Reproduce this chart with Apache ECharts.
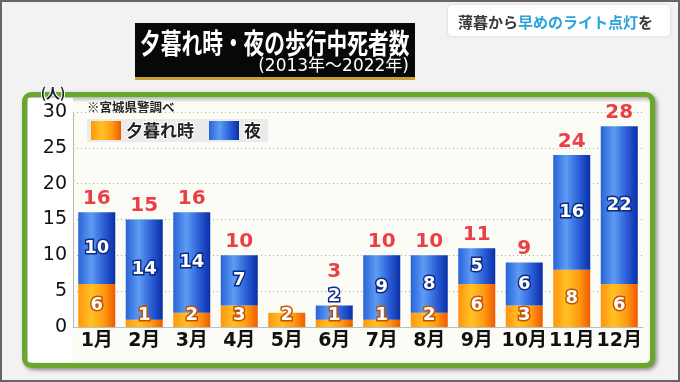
<!DOCTYPE html>
<html><head><meta charset="utf-8">
<script src="https://cdn.jsdelivr.net/npm/echarts@6/dist/echarts.min.js"></script>
<style>html,body{margin:0;padding:0;background:#f1f1f1;}#c{width:680px;height:382px;}</style>
</head><body><div id="c"></div>
<script>
const months = ['1月','2月','3月','4月','5月','6月','7月','8月','9月','10月','11月','12月'];
const dusk = [6,1,2,3,2,1,1,2,6,3,8,6];
const night = [10,14,14,7,0,2,9,8,5,6,16,22];
const totals = [16,15,16,10,null,3,10,10,11,9,24,28];
const yTicks = [0,5,10,15,20,25,30];

const chart = echarts.init(document.getElementById('c'), null, {renderer:'canvas'});
const numFont = 'DejaVu Sans, Noto Sans CJK JP, sans-serif';
const jpFont = 'Noto Sans CJK JP, sans-serif';

const blueGrad = new echarts.graphic.LinearGradient(0,0,1,0,[
  {offset:0,color:'#2a62d8'},{offset:0.35,color:'#5d9cf4'},{offset:0.7,color:'#2a5ed6'},{offset:1,color:'#0a2ea6'}]);
const orangeGrad = new echarts.graphic.LinearGradient(0,0,1,0,[
  {offset:0,color:'#ff9410'},{offset:0.35,color:'#ffc224'},{offset:0.7,color:'#ff9a12'},{offset:1,color:'#f05a00'}]);

const valueLabel = (stroke) => ({
  show:true, fontFamily:numFont, fontWeight:'bold', fontSize:18, color:'#fff',
  textBorderColor:stroke, textBorderWidth:3,
  formatter: p => (p.value ? String(p.value) : '')
});

const duskData = dusk.map(v => v <= 3
  ? {value:v, label:{position:'insideBottom', distance:3}}
  : {value:v, label:{position:'inside'}});
const nightData = night.map(v => (v > 0 && v < 3)
  ? {value:v, label:{position:'top', distance:0}}
  : {value:v, label:{position:'inside'}});
const totalData = totals.map((v,i) => (night[i] > 0 && night[i] < 3)
  ? {value:v, label:{offset:[0,-20]}}
  : {value:v});

const option = {
  animation:false,
  backgroundColor:'#f1f1f1',
  graphic:[
    {type:'rect', z:-20, shape:{x:1,y:1,width:678,height:380}, style:{fill:'#f2f2f2', stroke:'#666', lineWidth:2}},
    {type:'rect', z:-15, shape:{x:448,y:5,width:222,height:31,r:4}, style:{fill:'#ffffff', shadowBlur:3, shadowColor:'rgba(0,0,0,0.15)'}},
    {type:'text', z:-14, x:458, y:22, style:{
      text:'{a|薄暮から}{b|早めのライト点灯}{a|を}', verticalAlign:'middle',
      rich:{a:{fontFamily:jpFont, fontSize:15, fontWeight:'bold', fill:'#3a3a3a'},
            b:{fontFamily:jpFont, fontSize:15, fontWeight:'bold', fill:'#2aa2dc'}}}},
    {type:'rect', z:-15, shape:{x:135,y:23,width:280,height:57}, style:{fill:'#080808'}},
    {type:'rect', z:-14, shape:{x:135,y:77,width:280,height:3}, style:{fill:'#c9a032'}},
    {type:'text', z:-13, x:140, y:43, scaleX:0.74, style:{text:'夕暮れ時・夜の歩行中死者数', fontFamily:jpFont, fontSize:28, fontWeight:'bold', fill:'#fff', verticalAlign:'middle'}},
    {type:'text', z:-13, x:409, y:67, style:{text:'(2013年〜2022年)', fontFamily:numFont, fontSize:17, fontWeight:'normal', fill:'#fff', align:'right', verticalAlign:'middle'}},
    {type:'rect', z:-12, shape:{x:24.5,y:94.5,width:628,height:271,r:7},
      style:{fill:'#fcfcf7', stroke:'#68a82c', lineWidth:5, shadowBlur:4, shadowOffsetX:2, shadowOffsetY:2, shadowColor:'rgba(0,0,0,0.35)'}},
    {type:'rect', z:-11, shape:{x:28,y:98,width:45,height:264}, style:{fill:'#ffffff'}},
    {type:'text', z:5, x:53, y:93, style:{text:'(人)', fontFamily:jpFont, fontSize:14, fontWeight:'bold', fill:'#222', stroke:'#fff', lineWidth:2, align:'center', verticalAlign:'middle'}},
    {type:'text', z:5, x:87, y:107, style:{text:'※宮城県警調べ', fontFamily:jpFont, fontSize:12.5, fontWeight:'bold', fill:'#222', verticalAlign:'middle'}}
  ],
  grid:{left:73, right:37, top:112, bottom:55, containLabel:false},
  legend:{
    data:['夕暮れ時','夜'], left:87, top:119, orient:'horizontal',
    itemWidth:30, itemHeight:19, itemGap:14, padding:[2,6,2,4],
    backgroundColor:'#ebebeb', icon:'rect',
    textStyle:{fontFamily:jpFont, fontSize:17, fontWeight:'bold', color:'#222', textBorderColor:'#fff', textBorderWidth:2}
  },
  xAxis:{
    type:'category', data:months,
    axisLine:{show:true, lineStyle:{color:'#bdbdbd', width:1}},
    axisTick:{show:false},
    axisLabel:{fontFamily:numFont, fontSize:19, fontWeight:'bold', color:'#111', margin:5, interval:0}
  },
  yAxis:{
    type:'value', min:yTicks[0], max:yTicks[yTicks.length-1], interval:5,
    axisLine:{show:true, lineStyle:{color:'#b5b5b5', width:1}},
    axisTick:{show:false},
    axisLabel:{fontFamily:numFont, fontSize:19, color:'#111', margin:6},
    splitLine:{show:true, lineStyle:{color:'#b0a898', type:[1,3], width:1}}
  },
  series:[
    {name:'夕暮れ時', type:'bar', stack:'a', barWidth:37, data:duskData,
     itemStyle:{color:orangeGrad}, label:valueLabel('#c45200')},
    {name:'夜', type:'bar', stack:'a', barWidth:37, data:nightData,
     itemStyle:{color:blueGrad}, label:valueLabel('#0b2a88')},
    {name:'合計', type:'scatter', data:totalData, symbolSize:1, itemStyle:{color:'rgba(0,0,0,0)'},
     label:{show:true, position:'top', distance:3, fontFamily:numFont, fontSize:20, fontWeight:'bold', color:'#e60f19'}}
  ]
};
chart.setOption(option);
</script></body></html>
